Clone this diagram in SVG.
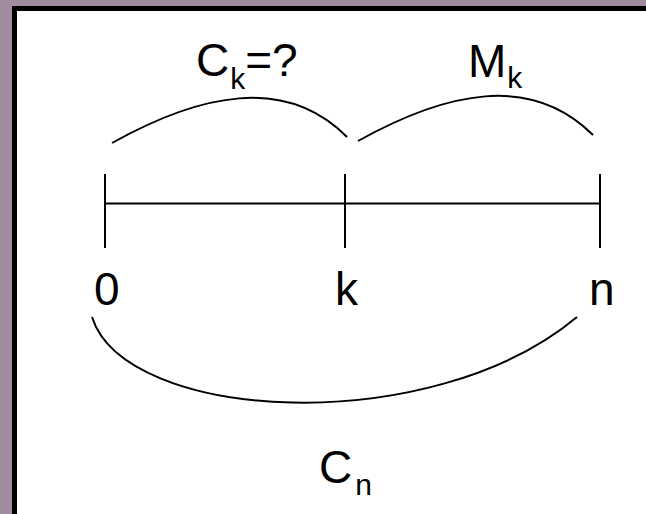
<svg xmlns="http://www.w3.org/2000/svg" width="646" height="514" viewBox="0 0 646 514">
<style>
.ln{fill:none;stroke:#000;stroke-width:2}
.t{font-family:"Liberation Sans",Arial,sans-serif;font-size:46px;fill:#000}
.s{font-size:30px}
</style>
<rect x="0" y="0" width="646" height="514" fill="#a08ca0"/>
<rect x="14.5" y="8.5" width="640" height="515" fill="#fff" stroke="#000" stroke-width="5"/>
<g id="connectors">
<path class="ln" d="M105,203.5H600"/>
<path class="ln" d="M105,174V248M345,174V248M600,174V248"/>
<path class="ln" d="M112,143C200,94 285,75 347,137"/>
<path class="ln" d="M358,141C446,92 531,73 593,135"/>
<path class="ln" d="M92,317C125,422 430,440 577,317"/>
</g>
<g id="label-0"><text class="t" x="94" y="305">0</text></g>
<g id="label-k"><text class="t" x="335" y="305">k</text></g>
<g id="label-n"><text class="t" x="589" y="305">n</text></g>
<g id="label-Ck"><text class="t" x="196" y="76">C<tspan class="s" dx="1" dy="13">k</tspan><tspan dy="-13">=?</tspan></text></g>
<g id="label-Mk"><text class="t" x="468" y="77">M<tspan class="s" dx="1" dy="11">k</tspan></text></g>
<g id="label-Cn"><text class="t" x="319" y="483">C<tspan class="s" dx="3" dy="12">n</tspan></text></g>
</svg>
